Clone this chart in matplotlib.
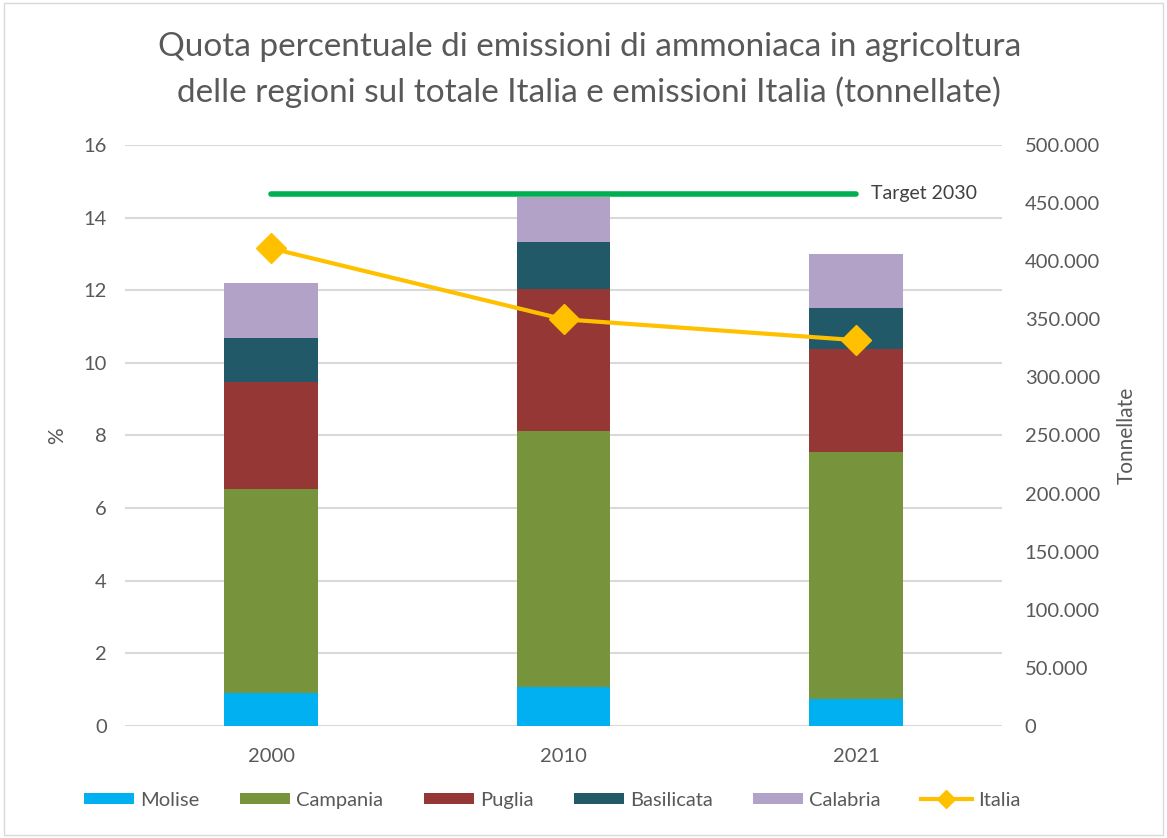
import matplotlib.pyplot as plt
import numpy as np
from matplotlib.ticker import FuncFormatter
from matplotlib.lines import Line2D

# Dati
anni = ["2000", "2010", "2021"]
molise = [0.90, 1.07, 0.73]
campania = [5.63, 7.05, 6.82]
puglia = [2.95, 3.91, 2.83]
basilicata = [1.21, 1.31, 1.13]
calabria = [1.52, 1.24, 1.50]
italia = [411000, 350000, 332000]
target_2030 = [14.65, 14.65, 14.65]

regioni = ["Molise", "Campania", "Puglia", "Basilicata", "Calabria"]
colori = ["#00B0F0", "#77933C", "#953735", "#215968", "#B3A2C7"]

plt.rcParams['font.family'] = ['Lato', 'DejaVu Sans']
grigio = "#595959"

fig = plt.figure(figsize=(11.67, 8.38), dpi=100)
ax = fig.add_axes([0.107, 0.1337, 0.752, 0.6933])

x = np.arange(len(anni))
bottom = np.zeros(len(anni))
handles = []
for nome, valori, col in zip(regioni, [molise, campania, puglia, basilicata, calabria], colori):
    b = ax.bar(x, valori, width=0.32, bottom=bottom, color=col, label=nome, zorder=2)
    handles.append(b)
    bottom += np.array(valori)

# Linea target
ax.plot(x, target_2030, color="#00B050", linewidth=4, solid_capstyle="round", zorder=4)
ax.text(2.05, target_2030[-1], "Target 2030", va="center", ha="left", fontsize=14, color="#404040")

ax.set_xlim(-0.5, 2.5)
ax.set_ylim(0, 16)
ax.set_yticks(range(0, 17, 2))
ax.set_xticks(x)
ax.set_xticklabels(anni)
ax.grid(axis="y", color="#d9d9d9", linewidth=1.5, zorder=0)
ax.set_axisbelow(True)
for s in ax.spines.values():
    s.set_visible(False)
ax.tick_params(length=0, labelsize=14.5, colors=grigio)
ax.tick_params(axis="x", pad=16)
ax.tick_params(axis="y", pad=13)
ax.set_ylabel("%", fontsize=15, color=grigio, labelpad=12)

# Asse destro: emissioni Italia
ax2 = ax.twinx()
ax2.set_ylim(0, 500000)
ax2.set_yticks(range(0, 500001, 50000))
ax2.yaxis.set_major_formatter(FuncFormatter(lambda v, p: f"{int(v):,}".replace(",", ".")))
for s in ax2.spines.values():
    s.set_visible(False)
ax2.tick_params(length=0, labelsize=14.5, colors=grigio, pad=16)
ax2.set_ylabel("Tonnellate", fontsize=15, color=grigio, labelpad=12)
ax2.plot(x, italia, color="#FFC000", linewidth=3, marker="D", markersize=15, zorder=5)
handles.append(Line2D([], [], color="#FFC000", linewidth=3, marker="D", markersize=9))

fig.suptitle("Quota percentuale di emissioni di ammoniaca in agricoltura\n"
             "delle regioni sul totale Italia e emissioni Italia (tonnellate)",
             x=0.505, y=0.962, fontsize=24, color=grigio, linespacing=1.55)

fig.legend(handles, regioni + ["Italia"], loc="center", bbox_to_anchor=(0.473, 0.045),
           ncol=6, frameon=False, fontsize=14.5, labelcolor=grigio,
           handlelength=2.5, handleheight=0.5, columnspacing=2.0, handletextpad=0.3)

# cornice del grafico
fig.patches.append(plt.Rectangle((0.003, 0.003), 0.994, 0.994, transform=fig.transFigure,
                                 fill=False, edgecolor="#d9d9d9", linewidth=1))

plt.savefig("out.png", dpi=100)
